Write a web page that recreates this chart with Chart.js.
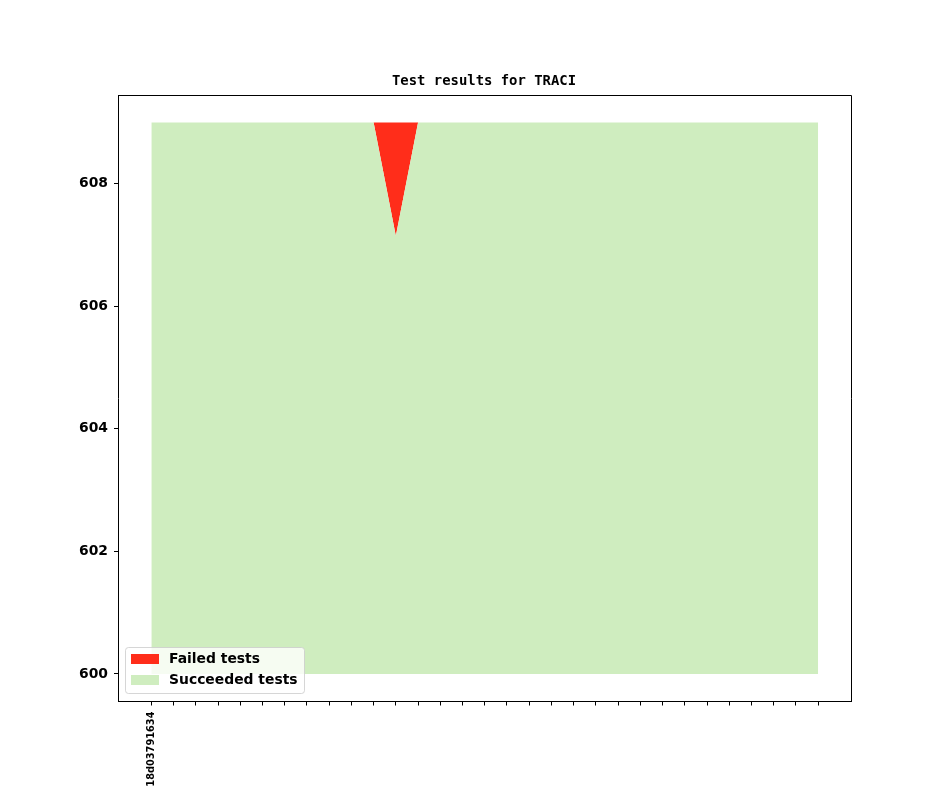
<!DOCTYPE html>
<html lang="en">
<head>
    <meta charset="UTF-8">
    <title>Test results for TRACI</title>
    <script src="https://cdn.jsdelivr.net/npm/chart.js"></script>
    <style>
        html, body { margin: 0; padding: 0; background: #fff; }
        canvas { display: block; }
    </style>
</head>
<body>
    <canvas id="chart" width="944" height="787"></canvas>
    <script>
        // commit ids (only the first one is labelled in the picture)
        const commits = ['18d03791634'].concat(Array(30).fill(''));
        const succeeded = [609, 609, 609, 609, 609, 609, 609, 609, 609, 609,
                           609, 607.15, 609, 609, 609, 609, 609, 609, 609, 609,
                           609, 609, 609, 609, 609, 609, 609, 609, 609, 609, 609];
        const failed = [0, 0, 0, 0, 0, 0, 0, 0, 0, 0,
                        0, 1.85, 0, 0, 0, 0, 0, 0, 0, 0,
                        0, 0, 0, 0, 0, 0, 0, 0, 0, 0, 0];
        const yTicks = [600, 602, 604, 606, 608];

        const RED = '#ff2d1a';
        const GREEN = '#cfedbf';

        const totals = succeeded.map((s, i) => s + failed[i]);
        const xIdx = commits.map((c, i) => i);

        // title, frame and legend like the original
        const extras = {
            id: 'extras',
            afterDraw(chart) {
                const ctx = chart.ctx;
                const a = chart.chartArea;
                ctx.save();
                ctx.strokeStyle = '#000';
                ctx.lineWidth = 1;
                ctx.beginPath();
                ctx.moveTo(Math.round(a.left) + 0.5, Math.round(a.top) + 0.5);
                ctx.lineTo(Math.round(a.right) - 0.5, Math.round(a.top) + 0.5);
                ctx.lineTo(Math.round(a.right) - 0.5, Math.round(a.bottom));
                ctx.stroke();

                ctx.fillStyle = '#000';
                ctx.font = 'bold 13.9px "DejaVu Sans Mono"';
                ctx.textAlign = 'center';
                ctx.textBaseline = 'middle';
                ctx.fillText('Test results for TRACI', 484, 81);

                // legend box
                const bx = 125, by = 647, bw = 179, bh = 46;
                ctx.beginPath();
                ctx.roundRect(bx + 0.5, by + 0.5, bw, bh, 3);
                ctx.fillStyle = 'rgba(255,255,255,0.8)';
                ctx.fill();
                ctx.strokeStyle = 'rgba(204,204,204,0.8)';
                ctx.stroke();

                const items = [['Failed tests', RED], ['Succeeded tests', GREEN]];
                ctx.font = 'bold 13.9px "DejaVu Sans"';
                ctx.textAlign = 'left';
                items.forEach((it, i) => {
                    const cy = 659 + i * 21;
                    ctx.fillStyle = it[1];
                    ctx.fillRect(131, cy - 5, 28, 10);
                    ctx.fillStyle = '#000';
                    ctx.fillText(it[0], 169, cy + 0.5);
                });
                ctx.restore();
            }
        };

        new Chart(document.getElementById('chart'), {
            type: 'line',
            data: {
                labels: xIdx,
                datasets: [
                    {
                        label: 'Succeeded tests',
                        data: xIdx.map(i => ({ x: i, y: succeeded[i] })),
                        backgroundColor: GREEN,
                        borderWidth: 0,
                        pointRadius: 0,
                        tension: 0,
                        fill: { value: 600 }
                    },
                    {
                        label: 'Failed tests',
                        data: xIdx.map(i => ({ x: i, y: totals[i] })),
                        backgroundColor: RED,
                        borderWidth: 0,
                        pointRadius: 0,
                        tension: 0,
                        fill: '-1'
                    }
                ]
            },
            options: {
                responsive: false,
                animation: false,
                layout: { padding: { top: 95, right: 92.5, left: 0, bottom: 0 } },
                plugins: {
                    legend: { display: false },
                    title: { display: false },
                    tooltip: { enabled: false }
                },
                scales: {
                    x: {
                        type: 'linear',
                        min: -1.5,
                        max: 31.5,
                        afterBuildTicks: s => { s.ticks = xIdx.map(v => ({ value: v })); },
                        afterFit: s => { s.height = 85.5; },
                        grid: { drawOnChartArea: false, drawTicks: true, tickLength: 4, color: '#000' },
                        border: { display: true, color: '#000', width: 1 },
                        ticks: {
                            autoSkip: false,
                            minRotation: 90,
                            maxRotation: 90,
                            padding: 6,
                            color: '#000',
                            font: { family: 'DejaVu Sans', weight: 'bold', size: 9.8 },
                            callback: v => commits[v]
                        }
                    },
                    y: {
                        min: 599.55,
                        max: 609.45,
                        afterBuildTicks: s => { s.ticks = yTicks.map(v => ({ value: v })); },
                        afterFit: s => { s.width = 118; },
                        grid: { drawOnChartArea: false, drawTicks: true, tickLength: 4, color: '#000' },
                        border: { display: true, color: '#000', width: 1 },
                        ticks: {
                            padding: 6,
                            color: '#000',
                            font: { family: 'DejaVu Sans', weight: 'bold', size: 13.9 }
                        }
                    }
                }
            },
            plugins: [extras]
        });
    </script>
</body>
</html>
